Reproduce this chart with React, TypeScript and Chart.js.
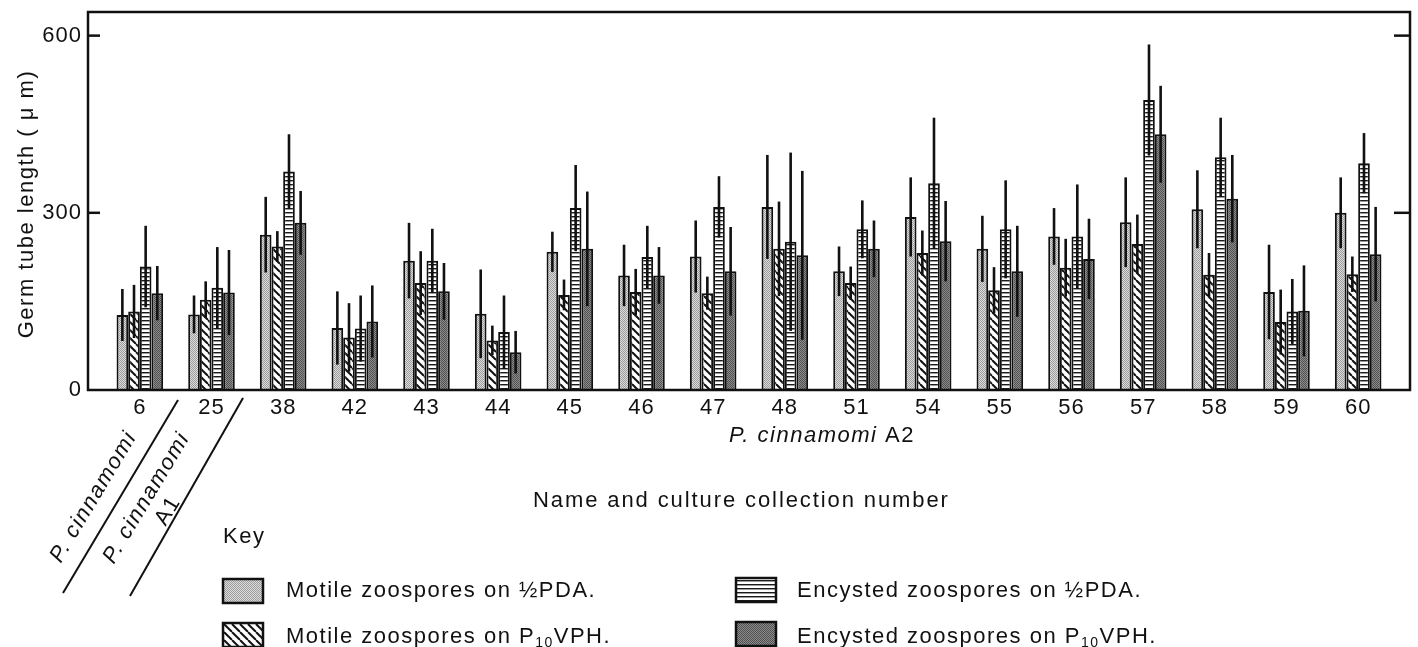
import React, { useEffect, useRef } from "react";
import { Chart, registerables } from "chart.js";
Chart.register(...registerables);

const categories = ["6", "25", "38", "42", "43", "44", "45", "46", "47", "48", "51", "54", "55", "56", "57", "58", "59", "60"];
const motilePDA = [127, 128, 263, 105, 219, 129, 234, 194, 226, 310, 201, 293, 239, 260, 284, 306, 166, 300];
const motilePDAErr = [44, 32, 64, 62, 64, 75, 34, 52, 61, 88, 42, 67, 56, 48, 76, 66, 80, 60];
const motileVPH = [133, 153, 243, 89, 181, 84, 161, 166, 164, 239, 181, 232, 169, 207, 247, 195, 115, 196];
const motileVPHErr = [45, 31, 26, 58, 54, 25, 26, 39, 28, 80, 28, 38, 39, 49, 50, 37, 55, 30];
const encystedPDA = [209, 173, 370, 104, 219, 98, 308, 225, 310, 251, 272, 350, 272, 260, 491, 394, 133, 384];
const encystedPDAErr = [69, 69, 63, 56, 54, 62, 73, 53, 52, 151, 49, 111, 83, 88, 94, 67, 55, 51];
const encystedVPH = [164, 165, 283, 116, 167, 64, 239, 194, 201, 228, 239, 252, 201, 222, 433, 324, 134, 230];
const encystedVPHErr = [46, 72, 54, 61, 48, 36, 97, 48, 75, 143, 48, 68, 77, 68, 82, 74, 77, 80];
const yTicks = [0, 300, 600];
const yMax = 640;
const legendLabels = [
  "Motile zoospores on ½PDA.",
  "Motile zoospores on P_{10}VPH.",
  "Encysted zoospores on ½PDA.",
  "Encysted zoospores on P_{10}VPH.",
];
const patternKinds = ["light", "diag", "horiz", "dark"];

const FONT = '"Liberation Sans", Arial, Helvetica, sans-serif';

function makePattern(kind: string): CanvasPattern | string {
  const c = document.createElement("canvas");
  const g = c.getContext("2d")!;
  if (kind === "light") {
    c.width = 2; c.height = 2;
    g.fillStyle = "#dcdcdc"; g.fillRect(0, 0, 2, 2);
    g.fillStyle = "#9c9c9c"; g.fillRect(0, 0, 1, 1); g.fillRect(1, 1, 1, 1);
  } else if (kind === "dark") {
    c.width = 2; c.height = 2;
    g.fillStyle = "#8a8a8a"; g.fillRect(0, 0, 2, 2);
    g.fillStyle = "#525252"; g.fillRect(0, 0, 1, 1); g.fillRect(1, 1, 1, 1);
  } else if (kind === "diag") {
    c.width = 8; c.height = 8;
    g.fillStyle = "#ffffff"; g.fillRect(0, 0, 8, 8);
    g.strokeStyle = "#111"; g.lineWidth = 2;
    for (const k of [-8, 0, 8]) {
      g.beginPath(); g.moveTo(k, 0); g.lineTo(k + 8, 8); g.stroke();
    }
  } else {
    c.width = 4; c.height = 4;
    g.fillStyle = "#ffffff"; g.fillRect(0, 0, 4, 4);
    g.fillStyle = "#1a1a1a"; g.fillRect(0, 0, 4, 1);
    g.fillStyle = "#9a9a9a"; g.fillRect(0, 1, 4, 1);
  }
  return g.createPattern(c, "repeat") || "#999";
}

function drawRich(ctx: CanvasRenderingContext2D, text: string, x: number, y: number, size: number) {
  const parts = text.split(/_\{(\d+)\}/);
  let cx = x;
  parts.forEach((p, i) => {
    if (i % 2 === 1) {
      ctx.font = `${Math.round(size * 0.62)}px ${FONT}`;
      ctx.fillText(p, cx, y + 4);
      cx += ctx.measureText(p).width;
    } else {
      ctx.font = `${size}px ${FONT}`;
      ctx.fillText(p, cx, y);
      cx += ctx.measureText(p).width;
    }
  });
}

const extrasPlugin = {
  id: "extras",
  beforeDraw(chart: any) {
    const ctx = chart.ctx as CanvasRenderingContext2D;
    ctx.save();
    ctx.fillStyle = "#ffffff";
    ctx.fillRect(0, 0, chart.width, chart.height);
    ctx.restore();
    (ctx as any).letterSpacing = "1px";
  },
  afterDatasetsDraw(chart: any) {
    const ctx = chart.ctx as CanvasRenderingContext2D;
    const ys = chart.scales.y;
    ctx.save();
    ctx.strokeStyle = "#111";
    ctx.lineWidth = 2.6;
    chart.data.datasets.forEach((ds: any, i: number) => {
      const meta = chart.getDatasetMeta(i);
      meta.data.forEach((el: any, j: number) => {
        const v = ds.data[j];
        const e = ds.errors[j];
        const y1 = ys.getPixelForValue(v + e);
        const y2 = ys.getPixelForValue(Math.max(0, v - e));
        ctx.beginPath();
        ctx.moveTo(el.x, y1);
        ctx.lineTo(el.x, y2);
        ctx.stroke();
      });
    });
    ctx.restore();
  },
  afterDraw(chart: any) {
    const ctx = chart.ctx as CanvasRenderingContext2D;
    const a = chart.chartArea;
    const ys = chart.scales.y;
    const L = a.left - 16, R = a.right + 16, T = a.top, B = a.bottom;
    ctx.save();
    ctx.strokeStyle = "#111";
    ctx.lineWidth = 2.5;
    ctx.strokeRect(L, T, R - L, B - T);
    yTicks.filter((v) => v > 0).forEach((v) => {
      const y = ys.getPixelForValue(v);
      ctx.beginPath(); ctx.moveTo(L, y); ctx.lineTo(L + 12, y); ctx.stroke();
      ctx.beginPath(); ctx.moveTo(R - 16, y); ctx.lineTo(R, y); ctx.stroke();
    });

    ctx.fillStyle = "#111";
    (ctx as any).letterSpacing = "1.5px";
    ctx.textBaseline = "alphabetic";

    // y title
    ctx.save();
    ctx.translate(33, 204);
    ctx.rotate(-Math.PI / 2);
    ctx.textAlign = "center";
    ctx.font = `22px ${FONT}`;
    ctx.fillText("Germ tube length ( μ m)", 0, 0);
    ctx.restore();

    // group label
    ctx.textAlign = "left";
    ctx.font = `italic 22px ${FONT}`;
    const t1 = "P. cinnamomi ";
    ctx.fillText(t1, 729, 442);
    const w1 = ctx.measureText(t1).width;
    ctx.font = `22px ${FONT}`;
    ctx.fillText("A2", 729 + w1, 442);

    // axis title
    ctx.font = `22px ${FONT}`;
    (ctx as any).letterSpacing = "1.9px";
    ctx.fillText("Name and culture collection number", 533, 507);
    (ctx as any).letterSpacing = "1.5px";

    // diagonal labels
    const ang = -59 * Math.PI / 180;
    ctx.lineWidth = 2;
    ctx.beginPath(); ctx.moveTo(178, 400); ctx.lineTo(63, 593); ctx.stroke();
    ctx.beginPath(); ctx.moveTo(243, 398); ctx.lineTo(130, 596); ctx.stroke();
    ctx.textAlign = "center";
    ctx.save();
    ctx.translate(92, 496); ctx.rotate(ang);
    ctx.font = `italic 22px ${FONT}`;
    ctx.fillText("P. cinnamomi", 0, 8);
    ctx.restore();
    ctx.save();
    ctx.translate(145, 497); ctx.rotate(ang);
    ctx.font = `italic 22px ${FONT}`;
    ctx.fillText("P. cinnamomi", 0, 8);
    ctx.font = `22px ${FONT}`;
    ctx.fillText("A1", 0, 33);
    ctx.restore();

    // key
    ctx.textAlign = "left";
    ctx.font = `22px ${FONT}`;
    ctx.fillText("Key", 223, 543);
    const boxes = [
      { bx: 223, by: 579, tx: 286, ty: 597 },
      { bx: 223, by: 623, tx: 286, ty: 643 },
      { bx: 736, by: 578, tx: 797, ty: 597 },
      { bx: 736, by: 622, tx: 797, ty: 643 },
    ];
    boxes.forEach((b, i) => {
      ctx.fillStyle = chart.data.datasets[i].backgroundColor;
      ctx.fillRect(b.bx, b.by, 40, 24);
      ctx.lineWidth = 2.5;
      ctx.strokeStyle = "#111";
      ctx.strokeRect(b.bx, b.by, 40, 24);
      ctx.fillStyle = "#111";
      drawRich(ctx, legendLabels[i], b.tx, b.ty, 22);
    });
    ctx.restore();
  },
};

export default function App() {
  const ref = useRef<HTMLCanvasElement | null>(null);
  useEffect(() => {
    if (!ref.current) return;
    const values = [motilePDA, motileVPH, encystedPDA, encystedVPH];
    const errors = [motilePDAErr, motileVPHErr, encystedPDAErr, encystedVPHErr];
    const chart = new Chart(ref.current, {
      type: "bar",
      data: {
        labels: categories,
        datasets: values.map((v, i) => ({
          label: legendLabels[i].replace(/_\{(\d+)\}/, "$1"),
          data: v,
          errors: errors[i],
          backgroundColor: makePattern(patternKinds[i]),
          borderColor: "#111",
          borderWidth: 2,
          categoryPercentage: 0.65,
          barPercentage: 1.0,
        })) as any,
      },
      options: {
        animation: false,
        responsive: false,
        layout: { padding: { top: 12, right: 24, left: 0, bottom: 0 } },
        plugins: { legend: { display: false }, tooltip: { enabled: false } },
        scales: {
          x: {
            grid: { display: false, drawTicks: false },
            border: { display: false },
            ticks: { color: "#111", font: { family: FONT, size: 22 }, padding: 5, maxRotation: 0, autoSkip: false },
            afterFit: (s: any) => { s.height = 257; s.paddingLeft = 0; s.paddingRight = 0; },
          },
          y: {
            min: 0,
            max: yMax,
            grid: { display: false, drawTicks: false },
            border: { display: false },
            ticks: { color: "#111", font: { family: FONT, size: 22 }, padding: 22 },
            afterBuildTicks: (s: any) => { s.ticks = yTicks.map((v) => ({ value: v })); },
            afterFit: (s: any) => { s.width = 104; s.paddingTop = 0; s.paddingBottom = 0; },
          },
        },
      },
      plugins: [extrasPlugin],
    });
    return () => chart.destroy();
  }, []);
  return (
    <div style={{ position: "absolute", left: 0, top: 0, width: 1418, height: 647, background: "#fff" }}>
      <canvas ref={ref} width={1418} height={647} />
    </div>
  );
}
